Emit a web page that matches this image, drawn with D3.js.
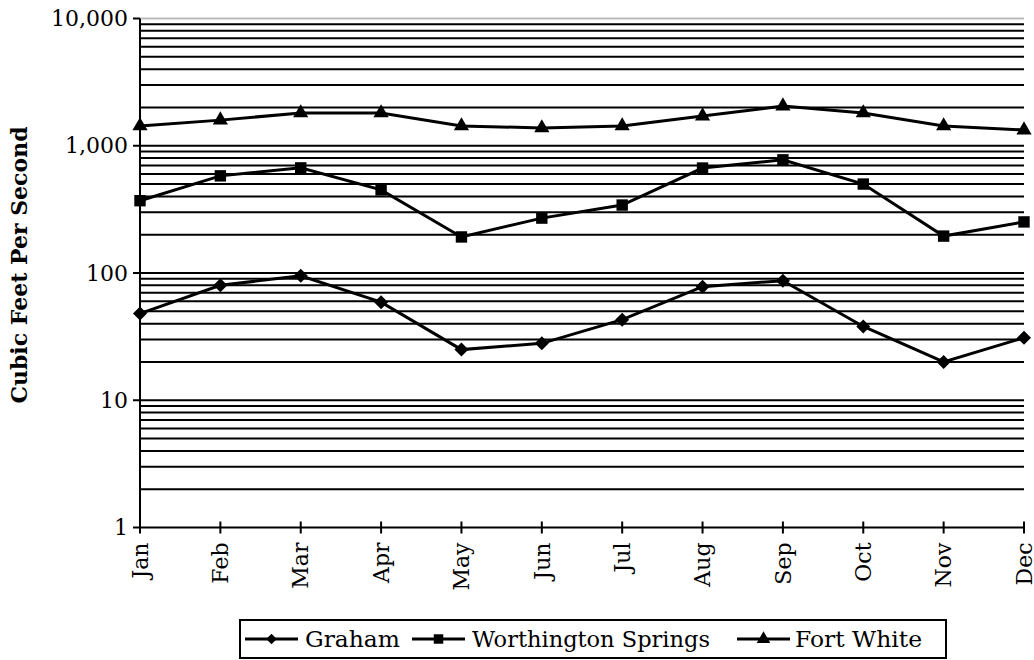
<!DOCTYPE html>
<html>
<head>
<meta charset="utf-8">
<script src="https://cdn.jsdelivr.net/npm/d3@7"></script>
<style>
  body { margin: 0; background: #fff; }
  text { font-family: "DejaVu Serif", serif; fill: #000; }
</style>
</head>
<body>
<svg id="chart" width="1034" height="660"></svg>
<script>
const months = ["Jan", "Feb", "Mar", "Apr", "May", "Jun", "Jul", "Aug", "Sep", "Oct", "Nov", "Dec"];
const graham = [48, 80, 95, 59, 25, 28, 43, 78, 87, 38, 20, 31];
const worthington = [370, 580, 670, 450, 192, 270, 342, 668, 775, 500, 195, 252];
const fortWhite = [1430, 1590, 1810, 1810, 1430, 1380, 1430, 1710, 2050, 1810, 1430, 1330];
const yTicks = [1, 10, 100, 1000, 10000];
const seriesNames = ["Graham", "Worthington Springs", "Fort White"];

const series = [
  { name: seriesNames[0], values: graham, symbol: d3.symbolDiamond2, size: 125, lsize: 70 },
  { name: seriesNames[1], values: worthington, symbol: d3.symbolSquare, size: 130, lsize: 90 },
  { name: seriesNames[2], values: fortWhite, symbol: d3.symbolTriangle, size: 100, lsize: 80 }
];

const svg = d3.select("#chart");
const plotLeft = 140, plotRight = 1024, plotTop = 18.5, plotBottom = 527.5;

const x = d3.scalePoint().domain(months).range([plotLeft, plotRight]);
const y = d3.scaleLog().domain([1, 10000]).range([plotBottom, plotTop]);

// gridlines at every minor log step
const grid = [];
for (let p = 1; p < 10000; p *= 10)
  for (let k = 2; k <= 10; k++) grid.push(p * k);

svg.append("g")
  .selectAll("line")
  .data(grid)
  .join("line")
  .attr("x1", plotLeft)
  .attr("x2", plotRight)
  .attr("y1", d => y(d))
  .attr("y2", d => y(d))
  .attr("stroke", d => d === 10000 ? "#bbb" : "#000")
  .attr("stroke-width", 2);

// axes
svg.append("line")
  .attr("x1", plotLeft).attr("x2", plotLeft)
  .attr("y1", plotTop).attr("y2", plotBottom)
  .attr("stroke", "#000").attr("stroke-width", 2);
svg.append("line")
  .attr("x1", plotLeft).attr("x2", plotRight)
  .attr("y1", plotBottom).attr("y2", plotBottom)
  .attr("stroke", "#000").attr("stroke-width", 2);

svg.append("g")
  .selectAll("line")
  .data(yTicks)
  .join("line")
  .attr("x1", plotLeft - 7).attr("x2", plotLeft)
  .attr("y1", d => y(d)).attr("y2", d => y(d))
  .attr("stroke", "#000").attr("stroke-width", 2);

svg.append("g")
  .selectAll("text")
  .data(yTicks)
  .join("text")
  .attr("x", plotLeft - 12)
  .attr("y", d => y(d))
  .attr("dy", "0.35em")
  .attr("text-anchor", "end")
  .attr("font-size", 22)
  .text(d => d3.format(",")(d));

svg.append("g")
  .selectAll("line")
  .data(months)
  .join("line")
  .attr("x1", d => x(d)).attr("x2", d => x(d))
  .attr("y1", plotBottom - 6).attr("y2", plotBottom + 6)
  .attr("stroke", "#000").attr("stroke-width", 2);

svg.append("g")
  .selectAll("text")
  .data(months)
  .join("text")
  .attr("transform", d => `translate(${x(d)},${plotBottom + 15}) rotate(-90)`)
  .attr("dy", "0.35em")
  .attr("text-anchor", "end")
  .attr("font-size", 22)
  .text(d => d);

svg.append("text")
  .attr("transform", `translate(19,265) rotate(-90)`)
  .attr("text-anchor", "middle")
  .attr("dy", "0.35em")
  .attr("font-size", 22)
  .attr("font-weight", "bold")
  .text("Cubic Feet Per Second");

// series
const line = d3.line().x((d, i) => x(months[i])).y(d => y(d));
const g = svg.append("g");
series.forEach(s => {
  g.append("path")
    .attr("d", line(s.values))
    .attr("fill", "none")
    .attr("stroke", "#000")
    .attr("stroke-width", 3);
  g.selectAll(null)
    .data(s.values)
    .join("path")
    .attr("transform", (d, i) => `translate(${x(months[i])},${y(d)})`)
    .attr("d", d3.symbol(s.symbol, s.size));
});

// legend
const legend = svg.append("g");
legend.append("rect")
  .attr("x", 240).attr("y", 620)
  .attr("width", 706).attr("height", 38)
  .attr("fill", "#fff").attr("stroke", "#000").attr("stroke-width", 2);
const legendItems = [
  { x: 245, w: 53, tx: 305, tw: 95 },
  { x: 412, w: 53, tx: 472, tw: 238 },
  { x: 737, w: 53, tx: 795, tw: 127 }
];
series.forEach((s, i) => {
  const it = legendItems[i];
  const cy = 639;
  legend.append("line")
    .attr("x1", it.x).attr("x2", it.x + it.w)
    .attr("y1", cy).attr("y2", cy)
    .attr("stroke", "#000").attr("stroke-width", 3);
  legend.append("path")
    .attr("transform", `translate(${it.x + it.w / 2},${cy})`)
    .attr("d", d3.symbol(s.symbol, s.lsize));
  legend.append("text")
    .attr("x", it.tx)
    .attr("y", cy)
    .attr("dy", "0.35em")
    .attr("font-size", 22)
    .attr("textLength", it.tw)
    .attr("lengthAdjust", "spacingAndGlyphs")
    .text(s.name);
});
</script>
</body>
</html>
